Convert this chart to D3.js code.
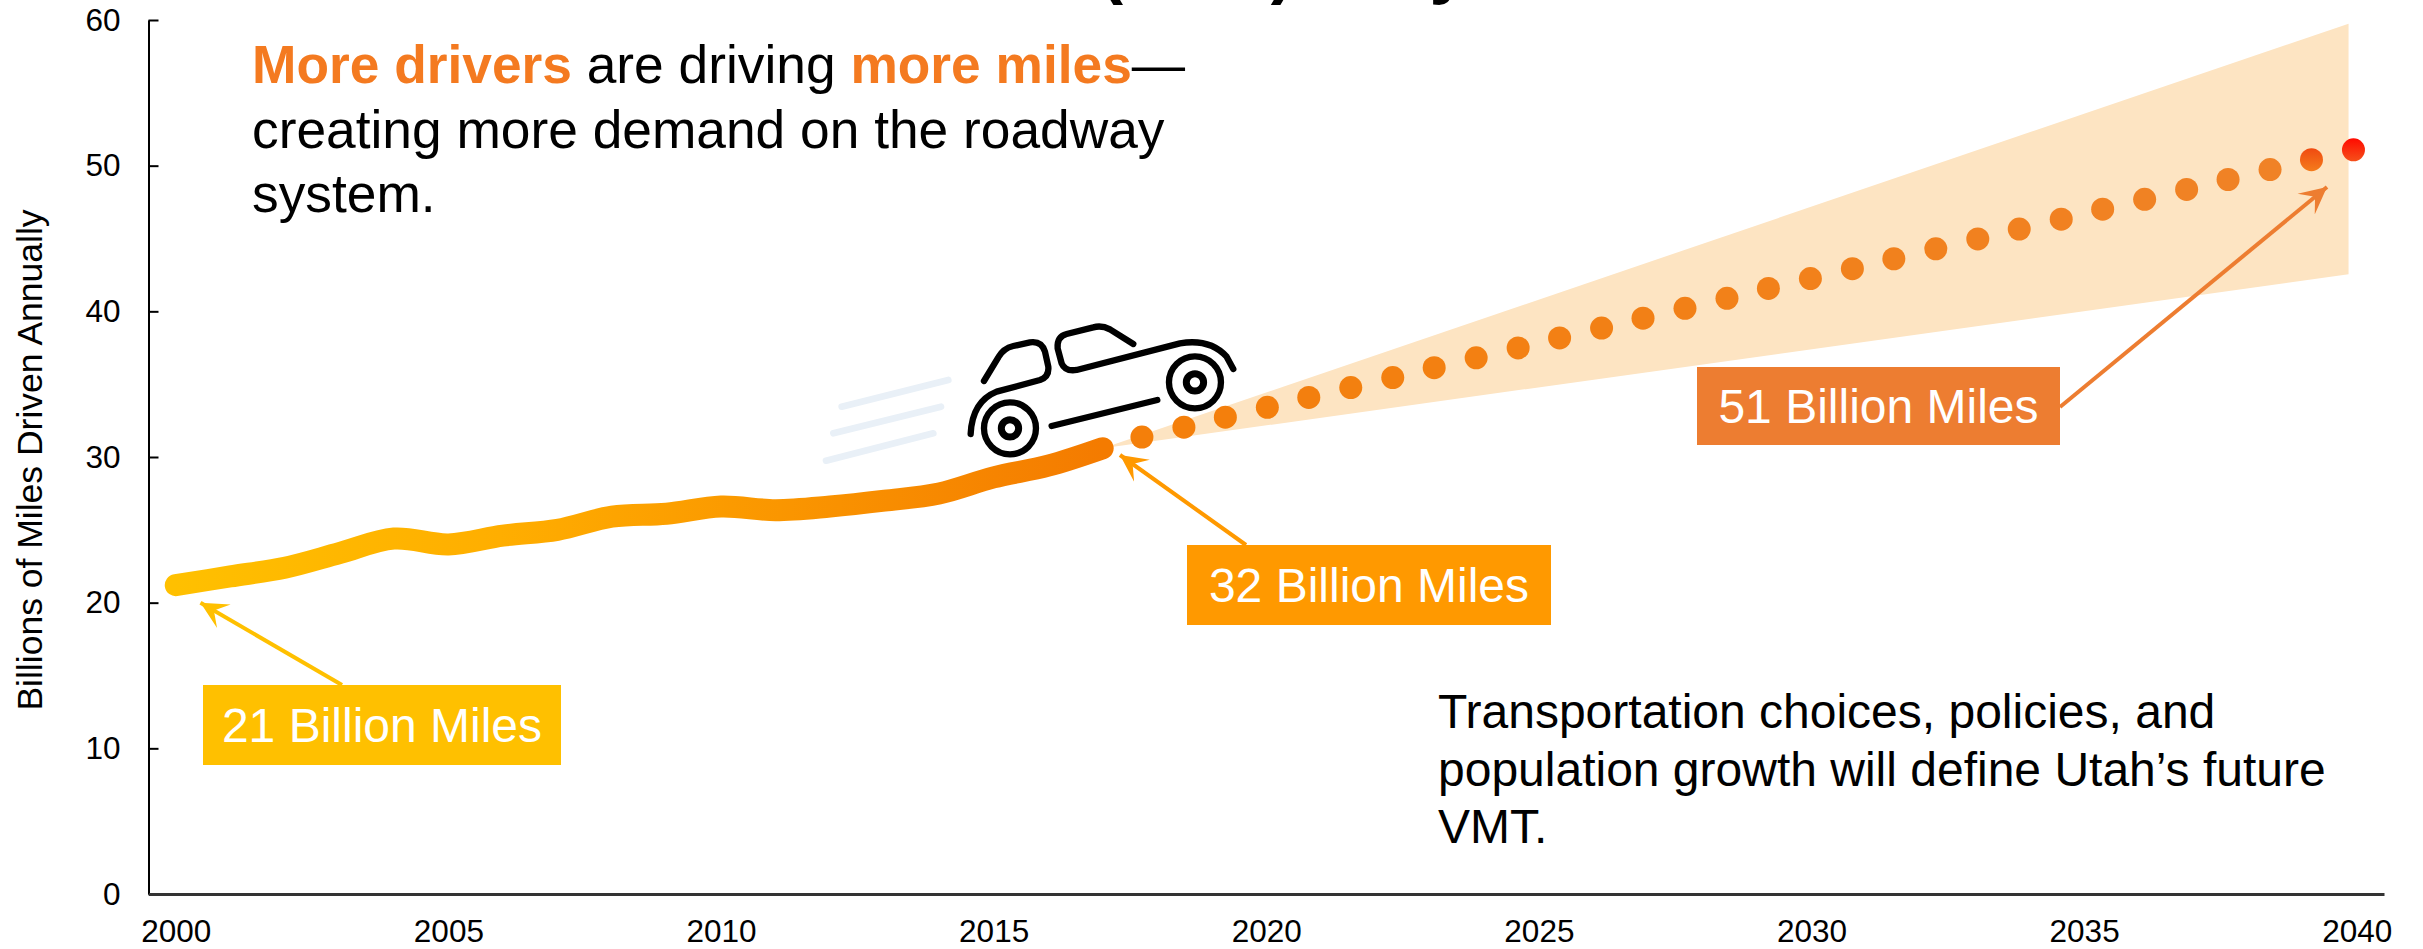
<!DOCTYPE html>
<html>
<head>
<meta charset="utf-8">
<script src="https://cdn.jsdelivr.net/npm/d3@7"></script>
<style>
html,body{margin:0;padding:0;background:#fff;overflow:hidden}
svg{display:block}
text{font-family:"Liberation Sans",Arial,sans-serif}
</style>
</head>
<body>
<svg id="chart" width="2423" height="949"></svg>
<script>
const tickYears = [2000,2005,2010,2015,2020,2025,2030,2035,2040];
const tickValues = [0,10,20,30,40,50,60];
const histYears = [2000,2001,2002,2003,2004,2005,2006,2007,2008,2009,2010,2011,2012,2013,2014,2015,2016,2017];
const histValues = [21.2,21.8,22.4,23.4,24.4,24.0,24.6,25.0,25.9,26.1,26.6,26.35,26.6,27.0,27.5,28.6,29.4,30.6];
const dotYears = [2017.72,2018.49,2019.25,2020.02,2020.78,2021.55,2022.32,2023.08,2023.85,2024.62,2025.38,2026.15,2026.91,2027.68,2028.45,2029.21,2029.98,2030.75,2031.51,2032.28,2033.05,2033.81,2034.58,2035.34,2036.11,2036.88,2037.64,2038.41,2039.17,2039.94];
const dotValues = [31.37,32.05,32.73,33.41,34.09,34.77,35.45,36.13,36.81,37.49,38.17,38.85,39.53,40.21,40.89,41.57,42.25,42.93,43.61,44.29,44.97,45.65,46.33,47.01,47.69,48.37,49.05,49.73,50.41,51.09];
const bandYears = [2017,2039.85];
const bandLow = [30.6,42.55];
const bandHigh = [30.6,59.75];
const yTitle = "Billions of Miles Driven Annually";
const callouts = ["21 Billion Miles","32 Billion Miles","51 Billion Miles"];

const svg = d3.select("#chart");
const x = d3.scaleLinear().domain([1999.5,2040.5]).range([148.5,2384]);
const y = d3.scaleLinear().domain([0,60]).range([894,20]);
const defs = svg.append("defs");

// gradients
const lineGrad = defs.append("linearGradient").attr("id","lineGrad")
  .attr("gradientUnits","userSpaceOnUse")
  .attr("x1",x(2000)).attr("x2",x(2017)).attr("y1",0).attr("y2",0);
[[0,"#FFC000"],[0.35,"#FFAE00"],[0.6,"#FB9A00"],[1,"#F47B00"]].forEach(s=>
  lineGrad.append("stop").attr("offset",s[0]).attr("stop-color",s[1]));
const g28 = defs.append("linearGradient").attr("id","dotA").attr("x1",0).attr("x2",0).attr("y1",0).attr("y2",1);
g28.append("stop").attr("offset",0).attr("stop-color","#F04A10");
g28.append("stop").attr("offset",1).attr("stop-color","#F47C1C");
const g29 = defs.append("linearGradient").attr("id","dotB").attr("x1",0).attr("x2",0).attr("y1",0).attr("y2",1);
g29.append("stop").attr("offset",0).attr("stop-color","#FF0A00");
g29.append("stop").attr("offset",1).attr("stop-color","#F5501A");

// arrow markers
[["mYellow","#FFC000"],["mOrange","#FF9900"],["mDark","#ED7D31"]].forEach(m=>{
  defs.append("marker").attr("id",m[0]).attr("markerUnits","userSpaceOnUse")
    .attr("markerWidth",30).attr("markerHeight",30).attr("viewBox","0 -15 30 30")
    .attr("refX",27).attr("refY",0).attr("orient","auto")
    .append("path").attr("d","M27,0L0,-13.5L11.5,0L0,13.5Z").attr("fill",m[1]);
});

// clipped title fragments at the top edge
svg.append("text").attr("x",1197).attr("y",-10).attr("text-anchor","middle")
  .attr("font-size",70).attr("font-weight","bold").attr("fill","#000").text("(VMT)");
svg.append("text").attr("x",1449).attr("y",-10).attr("text-anchor","middle")
  .attr("font-size",70).attr("font-weight","bold").attr("fill","#000").text("y");

// forecast band
const area = d3.area().x((d,i)=>x(bandYears[i])).y0((d,i)=>y(bandLow[i])).y1((d,i)=>y(bandHigh[i]));
svg.append("path").attr("d",area(bandYears)).attr("fill","#FDE4C2");

// dots
const dotColor = d3.scaleLinear().domain([0,27]).range(["#F47F0A","#F08226"]);
svg.append("g").selectAll("circle").data(dotYears).join("circle")
  .attr("cx",d=>x(d)).attr("cy",(d,i)=>y(dotValues[i])).attr("r",11.5)
  .attr("fill",(d,i)=> i===29?"url(#dotB)": i===28?"url(#dotA)": dotColor(i));

// historic line
const line = d3.line().x((d,i)=>x(histYears[i])).y((d,i)=>y(histValues[i])).curve(d3.curveCatmullRom.alpha(0.5));
svg.append("path").attr("d",line(histYears)).attr("fill","none")
  .attr("stroke","url(#lineGrad)").attr("stroke-width",22).attr("stroke-linecap","round").attr("stroke-linejoin","round");

// axes
const yAxis = d3.axisLeft(y).tickValues(tickValues).tickSizeInner(-10).tickSizeOuter(0).tickPadding(28).tickFormat(d3.format("d"));
const gy = svg.append("g").attr("transform","translate(148.5,0)").call(yAxis);
gy.selectAll("text").attr("font-size",31.5).attr("fill","#000").style("font-family",'"Liberation Sans"');
gy.selectAll("line").attr("stroke","#000").attr("stroke-width",2);
gy.select(".domain").attr("stroke","#000").attr("stroke-width",2);

const xAxis = d3.axisBottom(x).tickValues(tickYears).tickSize(0).tickPadding(26).tickFormat(d3.format("d"));
const gx = svg.append("g").attr("transform","translate(0,894)").call(xAxis);
gx.selectAll("text").attr("font-size",31.5).attr("fill","#000").style("font-family",'"Liberation Sans"');
gx.select(".domain").attr("stroke","#333").attr("stroke-width",3);

// axis title
svg.append("text").attr("transform","translate(30,460) rotate(-90)").attr("text-anchor","middle")
  .attr("dominant-baseline","central").attr("font-size",35.5).attr("fill","#000").text(yTitle);

// car
const car = svg.append("g").attr("transform","translate(780,270) scale(0.3333)")
  .attr("fill","none").attr("stroke-linecap","round").attr("stroke-linejoin","round");
[[185,410,505,330],[160,490,483,410],[138,572,460,490]].forEach(s=>
  car.append("line").attr("x1",s[0]).attr("y1",s[1]).attr("x2",s[2]).attr("y2",s[3])
     .attr("stroke","#E9F0F7").attr("stroke-width",20));
const carInk = car.append("g").attr("stroke","#000").attr("stroke-width",19);
carInk.append("path").attr("d","M572,492C575,430 600,385 650,365L780,330Q808,320 805,290L795,245Q785,212 750,217L700,228Q670,235 655,262L612,333");
carInk.append("path").attr("d","M1060,222L990,178Q965,165 940,172L860,192Q830,200 833,235L845,280Q855,305 890,300L1200,220Q1290,205 1340,260L1360,297");
carInk.append("path").attr("d","M815,468L1132,390");
[[690,475],[1245,337]].forEach(c=>{
  carInk.append("circle").attr("cx",c[0]).attr("cy",c[1]).attr("r",78);
  carInk.append("circle").attr("cx",c[0]).attr("cy",c[1]).attr("r",26).attr("stroke-width",21);
});

// callout arrows
function arrow(x1,y1,x2,y2,color,m){
  svg.append("line").attr("x1",x1).attr("y1",y1).attr("x2",x2).attr("y2",y2)
    .attr("stroke",color).attr("stroke-width",4).attr("marker-end",`url(#${m})`);
}
arrow(342,685,200.5,602.7,"#FFC000","mYellow");
arrow(1246,545,1120,455,"#FF9900","mOrange");
arrow(2060,407,2327,187,"#ED7D31","mDark");

// callout boxes
function box(x0,y0,x1,y1,color,label){
  svg.append("rect").attr("x",x0).attr("y",y0).attr("width",x1-x0).attr("height",y1-y0).attr("fill",color);
  svg.append("text").attr("x",(x0+x1)/2).attr("y",(y0+y1)/2).attr("text-anchor","middle")
    .attr("dominant-baseline","central").attr("font-size",48).attr("fill","#fff").text(label);
}
box(203,685,561,765,"#FFC000",callouts[0]);
box(1187,545,1551,625,"#FF9900",callouts[1]);
box(1697,367,2060,445,"#ED7D31",callouts[2]);

// annotations
const orange = "#F47A20";
const t1 = svg.append("text").attr("x",252).attr("y",83).attr("font-size",53.3).attr("fill","#000");
t1.append("tspan").attr("font-weight","bold").attr("fill",orange).text("More drivers");
t1.append("tspan").text(" are driving ");
t1.append("tspan").attr("font-weight","bold").attr("fill",orange).text("more miles");
t1.append("tspan").text("\u2014");
svg.append("text").attr("x",252).attr("y",148).attr("font-size",53.3).attr("fill","#000").text("creating more demand on the roadway");
svg.append("text").attr("x",252).attr("y",212).attr("font-size",53.3).attr("fill","#000").text("system.");

["Transportation choices, policies, and","population growth will define Utah\u2019s future","VMT."].forEach((s,i)=>{
  svg.append("text").attr("x",1438).attr("y",[728,786,843][i]).attr("font-size",48).attr("fill","#000").text(s);
});
</script>
</body>
</html>
